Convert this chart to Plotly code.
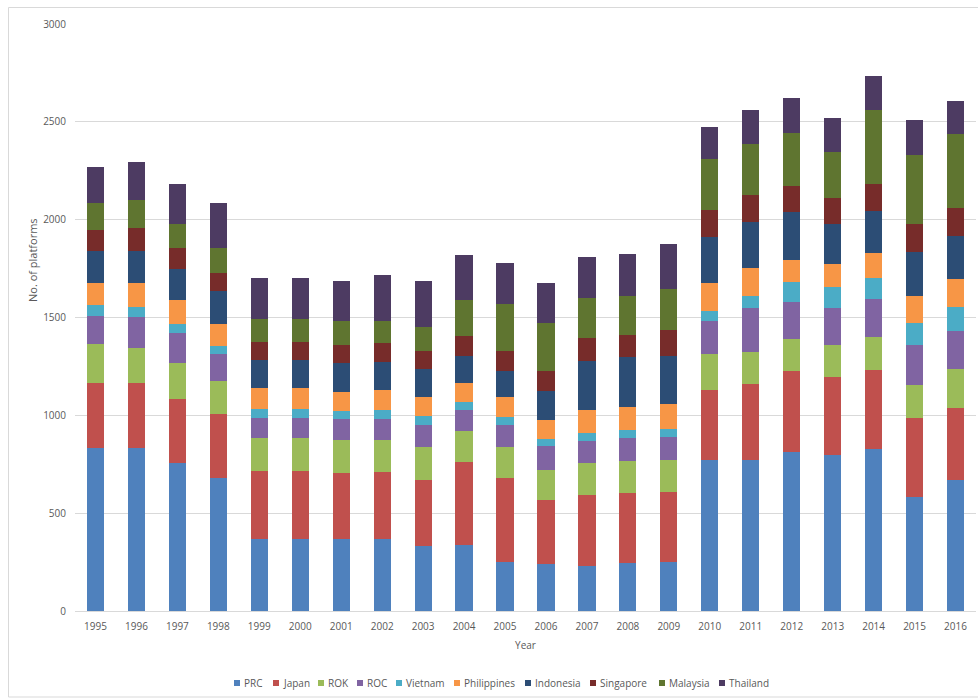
import plotly.graph_objects as go

# Offshore platform counts by country, 1995-2016
years = [str(y) for y in range(1995, 2017)]

prc =         [832, 832, 756, 679, 370, 370, 368, 368, 334, 338, 250, 239, 232, 244, 250, 774, 774, 812, 798, 828, 584, 670]
japan =       [331, 331, 326, 328, 348, 348, 335, 340, 338, 424, 430, 328, 360, 360, 359, 357, 388, 413, 396, 403, 401, 370]
rok =         [200, 183, 188, 169, 165, 165, 169, 164, 166, 156, 158, 156, 162, 163, 165, 180, 164, 164, 164, 167, 171, 198]
roc =         [144, 156, 151, 136, 105, 105, 107, 107, 111, 111, 114, 119, 113, 117, 115, 169, 224, 191, 192, 195, 206, 191]
vietnam =     [58, 51, 44, 42, 44, 44, 42, 46, 47, 38, 39, 35, 44, 43, 39, 55, 61, 101, 107, 111, 109, 124]
philippines = [112, 124, 127, 111, 106, 106, 100, 105, 97, 99, 102, 101, 118, 115, 131, 142, 143, 114, 118, 128, 140, 142]
indonesia =   [165, 165, 157, 168, 144, 144, 147, 141, 144, 136, 132, 144, 251, 254, 246, 235, 236, 246, 201, 213, 224, 219]
singapore =   [107, 115, 104, 93, 93, 93, 93, 97, 94, 101, 106, 107, 115, 116, 131, 138, 137, 131, 133, 136, 141, 145]
malaysia =    [136, 144, 125, 127, 115, 115, 119, 112, 118, 186, 237, 241, 204, 199, 212, 262, 258, 273, 236, 379, 356, 377]
thailand =    [186, 196, 206, 232, 213, 213, 207, 238, 238, 229, 212, 208, 212, 212, 226, 164, 175, 179, 177, 173, 177, 173]

series_names = ["PRC", "Japan", "ROK", "ROC", "Vietnam", "Philippines",
                "Indonesia", "Singapore", "Malaysia", "Thailand"]
series_values = [prc, japan, rok, roc, vietnam, philippines,
                 indonesia, singapore, malaysia, thailand]
series_colors = ["#4F81BD", "#C0504D", "#9BBB59", "#8064A2", "#4BACC6",
                 "#F79646", "#2C4D75", "#772C2A", "#5F7530", "#4D3B62"]

y_ticks = [0, 500, 1000, 1500, 2000, 2500, 3000]

FONT = "Open Sans"
TXT = "#595959"
GRID = "#d9d9d9"

W, H = 978, 698
ML, MR, MT, MB = 75, 2, 24, 87
PW, PH = W - ML - MR, H - MT - MB

fig = go.Figure()
for name, vals, col in zip(series_names, series_values, series_colors):
    fig.add_trace(go.Bar(x=years, y=vals, name=name, marker_color=col,
                         marker_line_width=0, showlegend=False))


def px_x(p):
    return (p - ML) / PW


def px_y(p):
    return (H - MB - p) / PH


# compact legend row under the chart: swatch + label, laid out left to right
# approximate rendered label widths (px) for 10px Open Sans
label_w = {"PRC": 21, "Japan": 27, "ROK": 21, "ROC": 21, "Vietnam": 40,
           "Philippines": 53, "Indonesia": 47, "Singapore": 51,
           "Malaysia": 42, "Thailand": 42}
SW, SGAP, IGAP = 6, 3, 9
total = sum(SW + SGAP + label_w[n] for n in series_names) + IGAP * (len(series_names) - 1)
lx = 502 - total / 2
legend_y = 683
shapes = []
annotations = []
for name, col in zip(series_names, series_colors):
    shapes.append(dict(type="rect", xref="paper", yref="paper",
                       x0=px_x(lx), x1=px_x(lx + SW),
                       y0=px_y(legend_y + 3), y1=px_y(legend_y - 3),
                       fillcolor=col, line_width=0))
    annotations.append(dict(xref="paper", yref="paper", x=px_x(lx + SW + SGAP - 1),
                            y=px_y(legend_y), text=name, showarrow=False,
                            xanchor="left", yanchor="middle",
                            font=dict(family=FONT, size=10, color=TXT)))
    lx += SW + SGAP + label_w[name] + IGAP

# outer chart frame
shapes.append(dict(type="rect", xref="paper", yref="paper",
                   x0=px_x(8.5), x1=px_x(990), y0=px_y(697), y1=px_y(7.5),
                   line=dict(color=GRID, width=1), fillcolor="rgba(0,0,0,0)",
                   layer="below"))

annotations.append(dict(xref="paper", yref="paper", x=px_x(32), y=px_y(260),
                        text="No. of platforms", textangle=-90, showarrow=False,
                        xanchor="center", yanchor="middle",
                        font=dict(family=FONT, size=11, color=TXT)))

fig.update_layout(
    width=W, height=H,
    margin=dict(l=ML, r=MR, t=MT, b=MB),
    paper_bgcolor="white", plot_bgcolor="white",
    barmode="stack", bargap=0.58,
    font=dict(family=FONT, size=10, color=TXT),
    shapes=shapes, annotations=annotations,
    xaxis=dict(type="category", showgrid=False, showline=True, linecolor=GRID,
               linewidth=1, ticks="", ticklabelstandoff=6,
               tickfont=dict(size=10, color=TXT),
               title=dict(text="Year", font=dict(size=10, color=TXT), standoff=9)),
    yaxis=dict(range=[0, 3000], tickvals=y_ticks, showgrid=True, gridcolor=GRID,
               gridwidth=1, zeroline=False, showline=False, ticks="",
               ticklabelstandoff=8,
               tickfont=dict(size=10, color=TXT)),
)

fig.write_html("out.html")
